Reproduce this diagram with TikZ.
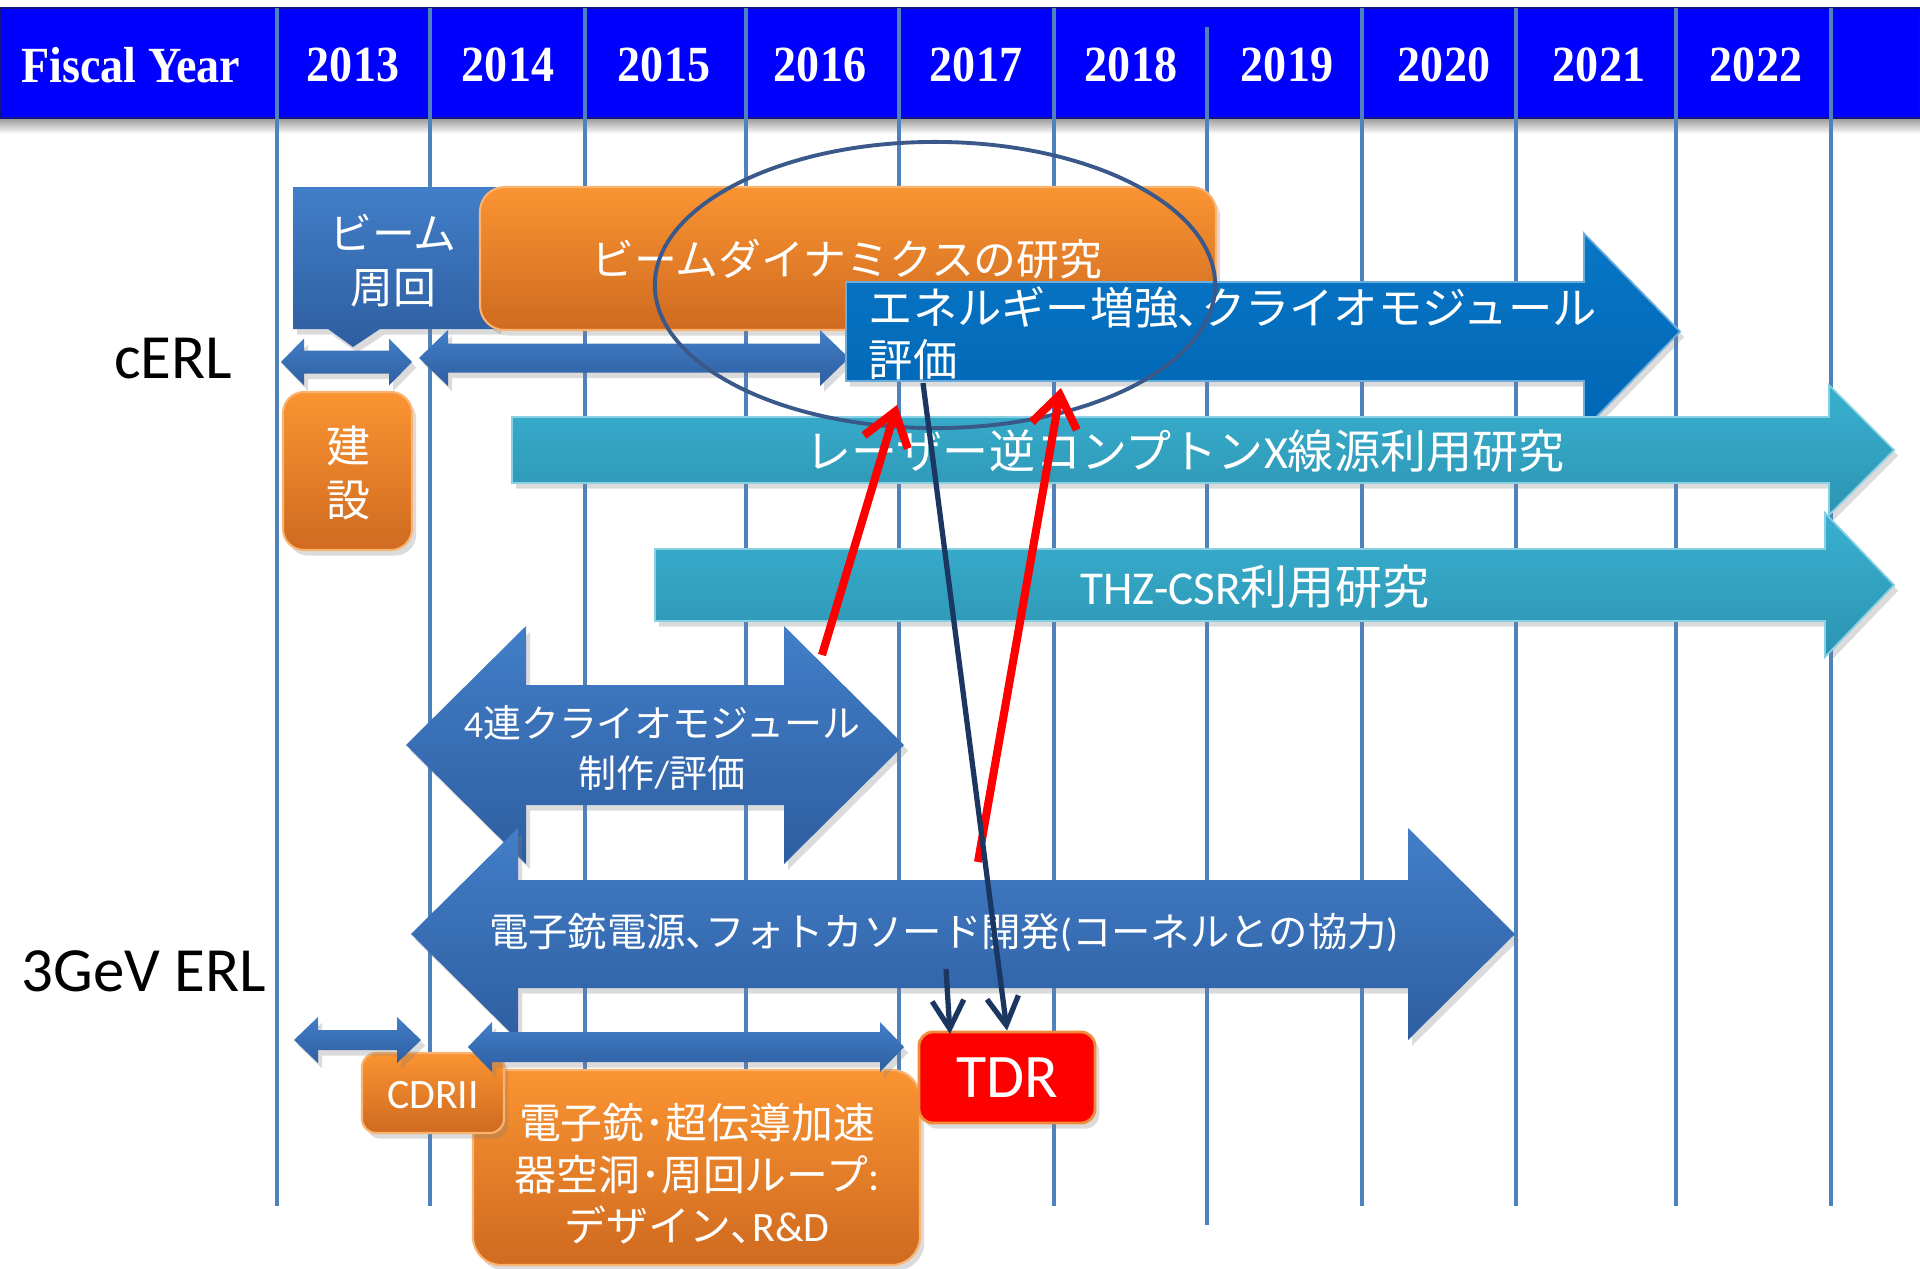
\documentclass[tikz,border=0pt]{standalone}
\usepackage{fontspec}
\setmainfont{Carlito}
\newfontfamily\jp{Noto Sans CJK JP}
\newfontfamily\tms{Liberation Serif}
\usetikzlibrary{arrows.meta,shadows,shapes.geometric}
\definecolor{hdrblue}{RGB}{0,0,255}
\definecolor{hdrline}{RGB}{20,20,130}
\definecolor{gridc}{RGB}{79,129,189}
\definecolor{blueT}{RGB}{66,126,200}
\definecolor{blueB}{RGB}{46,94,160}
\definecolor{orT}{RGB}{250,148,50}
\definecolor{orB}{RGB}{207,106,32}
\definecolor{enT}{RGB}{8,118,198}
\definecolor{enB}{RGB}{0,102,180}
\definecolor{tealT}{RGB}{58,176,208}
\definecolor{tealB}{RGB}{44,148,178}
\definecolor{ellc}{RGB}{58,88,138}
\definecolor{navyc}{RGB}{28,54,98}
\definecolor{tdrborder}{RGB}{240,140,60}
% double arrow: style, name, x1, x2, yc, half shaft, half head, head length
\newcommand\dArrow[8]{%
  \path[#1] (#3,#5) -- (#3+#8,#5-#7) -- (#3+#8,#5-#6) -- (#4-#8,#5-#6) -- (#4-#8,#5-#7)
    -- (#4,#5) -- (#4-#8,#5+#7) -- (#4-#8,#5+#6) -- (#3+#8,#5+#6) -- (#3+#8,#5+#7) -- cycle;
  \coordinate (#2) at ({(#3+#4)/2},#5);}
% single arrow: style, x1, head base, tip, yc, half shaft, half head
\newcommand\sArrow[7]{%
  \path[#1] (#2,#5-#6) -- (#3,#5-#6) -- (#3,#5-#7) -- (#4,#5) -- (#3,#5+#7) -- (#3,#5+#6) -- (#2,#5+#6) -- cycle;}
\begin{document}
\begin{tikzpicture}[x=0.01cm,y=-0.01cm,
  sh/.style={drop shadow={opacity=0.28,shadow xshift=1.2pt,shadow yshift=-1.6pt}},
  bluefill/.style={top color=blueT,bottom color=blueB,sh},
  orfill/.style={top color=orT,bottom color=orB,draw=orT!70!white,line width=0.6pt,sh},
  enfill/.style={top color=enT,bottom color=enB,draw=enT!60!white,line width=0.5pt,sh},
  tealfill/.style={top color=tealT,bottom color=tealB,draw=tealT!60!white,line width=0.5pt,sh},
  gridline/.style={draw=gridc,line width=1.15pt},
  hdrtext/.style={text=white,inner sep=0pt,font=\tms\bfseries\fontsize{13.1}{15}\selectfont},
  jpl/.style={text=white,inner sep=0pt,align=center},
  rowlbl/.style={inner sep=0pt,font=\fontsize{17.9}{20}\selectfont},
  redarr/.style={draw=red,line width=2.3pt,-{Straight Barb[length=9pt,width=13pt]}},
  navarr/.style={draw=navyc,line width=1.5pt,-{Straight Barb[length=8pt,width=9pt]}}
]
\useasboundingbox (0,0) rectangle (1920,1269);
\fill[white] (0,0) rectangle (1920,1269);
% header
\shade[top color=black!40,bottom color=white] (0,118) rectangle (1920,134);
\path[fill=hdrblue,draw=hdrline,line width=0.6pt] (0,8) rectangle (1920,118);
\foreach \x/\ya/\yb in {277/8/1206,430/8/1206,585/8/1206,746/8/1206,899/8/1206,1054/8/1206,1207/27/1225,1362/8/1206,1516/8/1206,1676/8/1206,1831/8/1206}
  {\draw[gridline] (\x,\ya) -- (\x,\yb);}
\node[hdrtext] (fy) at (131,65) {\scalebox{1}[1.1]{Fiscal Year}};
\foreach \yr/\x in {2013/353,2014/508,2015/664,2016/820,2017/976,2018/1131,2019/1287,2020/1444,2021/1599,2022/1756}
  {\node[hdrtext] (y\yr) at (\x,65) {\scalebox{1}[1.1]{\yr}};}
% row labels
\node[rowlbl] (cerl) at (173,359) {cERL};
\node[rowlbl] (gerl) at (144,971) {3GeV ERL};
% cERL
\path[bluefill] (293,187) -- (497,187) -- (497,329) -- (380,329) -- (353,347) -- (328,329) -- (293,329) -- cycle;
\node[jpl,font=\jp\fontsize{12.2}{15.4}\selectfont] (beam) at (393,261) {ビーム\\周回};
\path[orfill,rounded corners=7pt] (480,187) rectangle (1216,330);
\node[jpl,font=\jp\fontsize{12.2}{14}\selectfont] (bd) at (847,259) {ビームダイナミクスの研究};
\path[orfill,rounded corners=6pt] (283,392) rectangle (412,550);
\node[jpl,font=\jp\fontsize{12.5}{15.1}\selectfont] (kensetsu) at (348,473) {建\\設};
\dArrow{bluefill}{a1}{281}{412}{362}{11.5}{23.5}{23}
\dArrow{bluefill}{a2}{419}{849}{358}{14.5}{28}{29}
\sArrow{enfill}{846}{1584}{1680}{331.5}{49.5}{98}
\node[jpl,align=left,anchor=west,font=\jp\fontsize{12.6}{14.8}\selectfont] (energy) at (868,333) {エネルギー増強､クライオモジュール\\評価};
\sArrow{tealfill}{512}{1829}{1894}{450}{33}{65}
\node[jpl,font=\fontsize{13.1}{15}\selectfont] (laser) at (1185,451) {{\jp レーザー逆コンプトン}X{\jp 線源利用研究}};
\sArrow{tealfill}{655}{1825}{1894}{585}{36}{72}
\node[jpl,font=\fontsize{13.4}{15}\selectfont] (thz) at (1255,587) {THZ-CSR{\jp 利用研究}};
% 3GeV ERL
\dArrow{bluefill}{a3}{406}{904}{745}{60}{119}{120}
\node[jpl,font=\fontsize{10.8}{14.2}\selectfont] (cryo) at (662,748) {4{\jp 連クライオモジュール}\\{\jp 制作}/{\jp 評価}};
\dArrow{bluefill}{a4}{411}{1515}{934}{54}{106}{107}
\node[jpl,font=\fontsize{11.2}{13}\selectfont] (gun) at (944,933) {{\jp 電子銃電源､フォトカソード開発}({\jp コーネルとの協力})};
\path[orfill,rounded corners=8pt] (473,1070) rectangle (920,1265);
\node[jpl,font=\fontsize{11.9}{14.7}\selectfont] (design) at (697,1174) {{\jp 電子銃･超伝導加速}\\{\jp 器空洞･周回ループ}:\\{\jp デザイン､}R\&D};
\path[orfill,rounded corners=4pt] (362,1053) rectangle (504,1133);
\node[jpl,font=\fontsize{11.9}{14}\selectfont] (cdr) at (433,1095) {CDRII};
\dArrow{bluefill}{a5}{294}{421}{1040}{10}{23}{24}
\dArrow{bluefill}{a6}{468}{904}{1047}{15}{25}{24}
\node[fill=red,draw=tdrborder,line width=0.8pt,rounded corners=4pt,minimum width=1.76cm,minimum height=0.91cm,inner sep=0pt,text=white,font=\fontsize{17.6}{20}\selectfont,sh] (tdr) at (1007,1077.5) {TDR};
% ellipse
\node[ellipse,draw=ellc,line width=1.1pt,minimum width=5.6cm,minimum height=2.86cm,inner sep=0pt] (ell) at (935,285) {};
% connectors
\coordinate (r1s) at (822,655);
\coordinate (r1e) at (897,405);
\coordinate (r2s) at (978,862);
\coordinate (r2e) at (1061,388);
\coordinate (n1s) at (923,383);
\coordinate (n2s) at (946,969);
\coordinate (n2e) at (950,1034);
\draw[redarr] (r1s) -- (r1e);
\draw[redarr] (r2s) -- (r2e);
\draw[navarr] (n1s) -- (tdr.north);
\draw[navarr] (n2s) -- (n2e);
\end{tikzpicture}
\end{document}
